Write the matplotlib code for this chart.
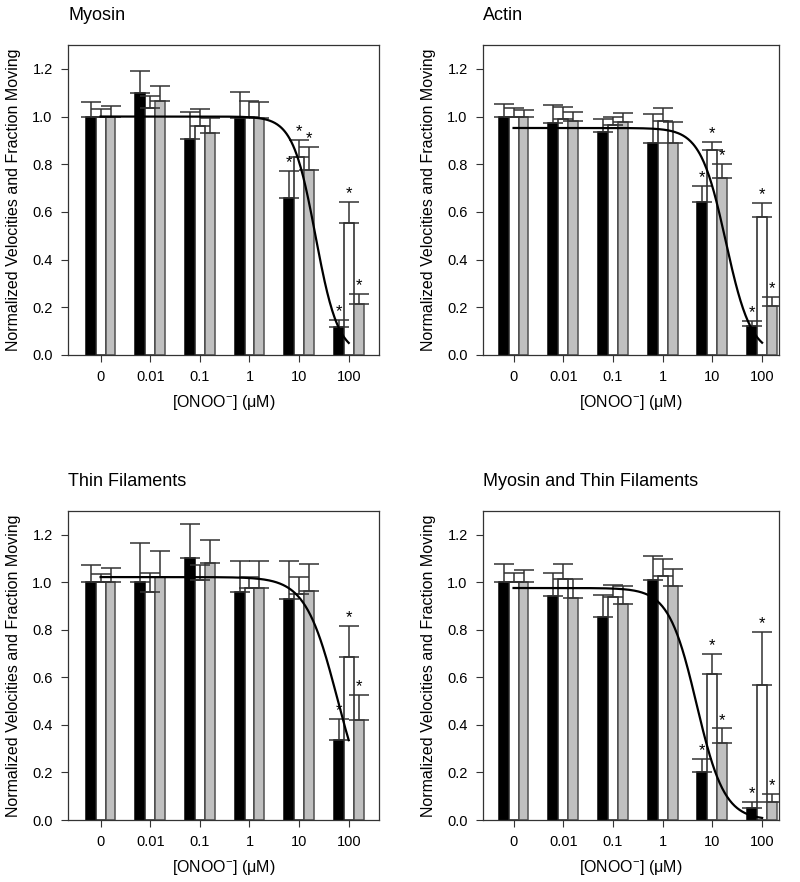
import numpy as np
import matplotlib
matplotlib.use('Agg')
import matplotlib.pyplot as plt

plt.rcParams['font.family'] = ['Liberation Sans', 'DejaVu Sans']
plt.rcParams['mathtext.fontset'] = 'custom'
plt.rcParams['mathtext.rm'] = 'Liberation Sans'
plt.rcParams['mathtext.it'] = 'Liberation Sans'

conc_labels = ['0', '0.01', '0.1', '1', '10', '100']

# Myosin
myo_black = [1.00, 1.097, 0.905, 0.995, 0.658, 0.119]
myo_black_err = [0.061, 0.096, 0.115, 0.106, 0.115, 0.028]
myo_white = [1.00, 1.034, 0.961, 1.00, 0.830, 0.553]
myo_white_err = [0.033, 0.051, 0.071, 0.064, 0.070, 0.087]
myo_gray = [1.00, 1.064, 0.931, 0.993, 0.776, 0.214]
myo_gray_err = [0.046, 0.062, 0.062, 0.067, 0.096, 0.042]

# Actin
act_black = [1.00, 0.971, 0.937, 0.888, 0.640, 0.123]
act_black_err = [0.053, 0.079, 0.053, 0.123, 0.067, 0.021]
act_white = [1.00, 0.990, 0.965, 0.983, 0.861, 0.578]
act_white_err = [0.035, 0.049, 0.033, 0.053, 0.033, 0.059]
act_gray = [1.00, 0.982, 0.978, 0.890, 0.742, 0.207]
act_gray_err = [0.027, 0.038, 0.037, 0.089, 0.059, 0.035]

# Thin filaments
thin_black = [1.00, 1.00, 1.103, 0.958, 0.930, 0.336]
thin_black_err = [0.074, 0.165, 0.143, 0.130, 0.158, 0.088]
thin_white = [1.00, 0.961, 1.008, 0.976, 0.950, 0.686]
thin_white_err = [0.034, 0.078, 0.063, 0.045, 0.072, 0.130]
thin_gray = [1.00, 1.021, 1.083, 0.976, 0.965, 0.420]
thin_gray_err = [0.060, 0.110, 0.094, 0.112, 0.111, 0.105]

# Myosin and thin filaments
both_black = [1.00, 0.941, 0.852, 1.008, 0.203, 0.052]
both_black_err = [0.077, 0.099, 0.093, 0.101, 0.052, 0.025]
both_white = [1.00, 1.014, 0.938, 1.027, 0.616, 0.570]
both_white_err = [0.040, 0.064, 0.052, 0.070, 0.081, 0.220]
both_gray = [1.00, 0.936, 0.910, 0.986, 0.326, 0.074]
both_gray_err = [0.050, 0.079, 0.073, 0.071, 0.059, 0.034]

# groups (index into conc_labels) marked with * on all three bars
myo_stars = [4, 5]
act_stars = [4, 5]
thin_stars = [5]
both_stars = [4, 5]

# sigmoid fits: top, IC50 (uM), hill slope
myo_fit = [1.00, 21.4, 1.9]
act_fit = [0.952, 18.6, 1.7]
thin_fit = [1.022, 58.9, 1.35]
both_fit = [0.976, 4.8, 1.55]

panels = [
    ('Myosin', [myo_black, myo_white, myo_gray],
     [myo_black_err, myo_white_err, myo_gray_err], myo_stars, myo_fit,
     [68, 45, 311, 310], (-0.657, 5.61)),
    ('Actin', [act_black, act_white, act_gray],
     [act_black_err, act_white_err, act_gray_err], act_stars, act_fit,
     [483, 45, 296, 310], (-0.615, 5.34)),
    ('Thin Filaments', [thin_black, thin_white, thin_gray],
     [thin_black_err, thin_white_err, thin_gray_err], thin_stars, thin_fit,
     [68, 511, 311, 309], (-0.657, 5.61)),
    ('Myosin and Thin Filaments', [both_black, both_white, both_gray],
     [both_black_err, both_white_err, both_gray_err], both_stars, both_fit,
     [483, 511, 296, 309], (-0.615, 5.34)),
]

fills = ['black', 'white', '#c0c0c0']
edges = ['black', '#222222', '#505050']
offsets = [-0.2, 0.0, 0.2]
W, H = 800, 882

fig = plt.figure(figsize=(8, 8.82), dpi=100)

for name, series, errs, stars, fit, box, xlim in panels:
    l, t, w, h = box
    ax = fig.add_axes([l / W, 1 - (t + h) / H, w / W, h / H])
    x = np.arange(len(conc_labels))
    for s in range(3):
        ax.bar(x + offsets[s], series[s], 0.2, color=fills[s],
               edgecolor=edges[s], linewidth=1.1, zorder=2)
        ax.errorbar(x + offsets[s], series[s],
                    yerr=[np.zeros(len(x)), errs[s]], fmt='none',
                    ecolor='#333333', elinewidth=1.1, capsize=7,
                    capthick=1.1, zorder=3)
        for g in stars:
            ax.text(x[g] + offsets[s], series[s][g] + errs[s][g] + 0.035, '*',
                    ha='center', va='center', fontsize=12, zorder=5)

    # fitted curve, position p = log10(conc) + 3
    top, ic50, hill = fit
    p = np.linspace(0, 5, 300)
    conc = 10 ** (p - 3)
    ax.plot(p, top / (1 + (conc / ic50) ** hill), color='black', lw=1.6,
            zorder=4)

    ax.set_xlim(xlim)
    ax.set_ylim(0, 1.3)
    ax.set_xticks(x)
    ax.set_xticklabels(conc_labels)
    ax.set_yticks(np.arange(0, 1.21, 0.2))
    ax.set_yticklabels(['%.1f' % v for v in np.arange(0, 1.21, 0.2)])
    ax.tick_params(labelsize=10.5, length=5, width=0.8, pad=6, color='#333333')
    for sp in ax.spines.values():
        sp.set_linewidth(0.9)
        sp.set_color('#333333')
    ax.set_title(name, loc='left', fontsize=13, pad=18)
    ax.set_xlabel(r'[ONOO$^{-}$] ($\mu$M)', fontsize=11.5, labelpad=6)
    ax.set_ylabel('Normalized Velocities and Fraction Moving', fontsize=11.5,
                  labelpad=8)

fig.savefig('out.png', dpi=100)
